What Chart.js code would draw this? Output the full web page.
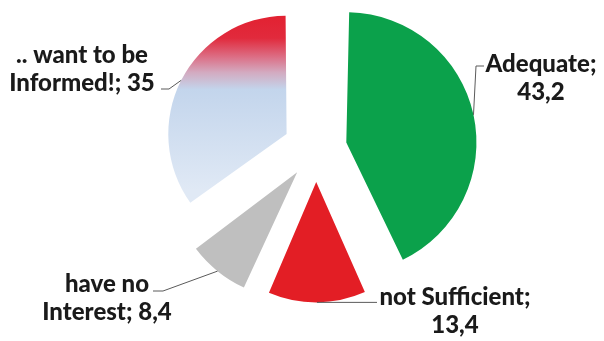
<!DOCTYPE html>
<html>
<head>
<meta charset="utf-8">
<script src="https://cdn.jsdelivr.net/npm/chart.js@4"></script>
<style>
  html, body { margin: 0; padding: 0; background: #fff; }
  canvas { display: block; }
</style>
</head>
<body>
<canvas id="pieChart" width="604" height="341"></canvas>
<script>
const categories = ['Adequate', 'not Sufficient', 'have no Interest', '.. want to be Informed!'];
const values = [43.2, 13.4, 8.4, 35];
// first printed line of each label, and the text before the value on the second line
const labelHeads = ['Adequate;', 'not Sufficient;', 'have no', '.. want to be'];
const labelTails = ['', '', 'Interest; ', 'Informed!; '];

const sliceColors = ['#0ba14b', '#e31e25', '#bfbfbf', null];
// chart.js moves each slice out by offset / 4
const sliceOffsets = [124, 132, 120, 132];

// where each label sits (centre x, first baseline) and the bends of its leader line
const labelPos = [
  { x: 541, y: 72, leader: [[476, 66], [484, 66]] },
  { x: 455, y: 305, leader: [[377, null]] },
  { x: 107, y: 292, leader: [[163, 291], [153, 291]] },
  { x: 82, y: 63, leader: [[169, 89], [161, 89]] }
];

const PIE_RADIUS = 112;

const pieCtx = document.getElementById('pieChart').getContext('2d');

function fmt(v) {
  return String(v).replace('.', ',');
}

// red fading into pale blue, top to bottom of the last slice
function sliceFill(context) {
  const i = context.dataIndex;
  if (sliceColors[i]) return sliceColors[i];
  const chart = context.chart;
  const area = chart.chartArea;
  if (!area) return '#c6d7ec';
  const cy = (area.top + area.bottom) / 2;
  const top = cy - 15 - 119;
  const bottom = cy - 15 + 119 * 0.6;
  const g = chart.ctx.createLinearGradient(0, top, 0, bottom);
  g.addColorStop(0, '#e31b2a');
  g.addColorStop(0.2, '#e12a3c');
  g.addColorStop(0.3, '#dc6f86');
  g.addColorStop(0.38, '#d3aac0');
  g.addColorStop(0.47, '#c3d5ec');
  g.addColorStop(1, '#e0e9f5');
  return g;
}

const sliceLabels = {
  id: 'sliceLabels',
  afterDatasetsDraw(chart) {
    const ctx = chart.ctx;
    const meta = chart.getDatasetMeta(0);
    meta.data.forEach((arc, i) => {
      const p = arc.getProps(['x', 'y', 'startAngle', 'endAngle', 'outerRadius', 'circumference']);
      const mid = (p.startAngle + p.endAngle) / 2;
      const shift = arc.options.offset / 4;
      const fix = 1 - Math.sin(Math.min(Math.PI, p.circumference));
      const r = p.outerRadius + shift * fix;
      const ax = p.x + Math.cos(mid) * (shift + r);
      const ay = p.y + Math.sin(mid) * (shift + r);
      const pos = labelPos[i];

      ctx.save();
      ctx.strokeStyle = '#5a5a5a';
      ctx.lineWidth = 1;
      ctx.beginPath();
      ctx.moveTo(ax, ay);
      pos.leader.forEach(pt => ctx.lineTo(pt[0], pt[1] === null ? ay : pt[1]));
      ctx.stroke();

      ctx.fillStyle = '#1a1a1a';
      ctx.font = '900 24px Lato';
      ctx.textAlign = 'center';
      ctx.textBaseline = 'alphabetic';
      ctx.fillText(labelHeads[i], pos.x, pos.y);
      ctx.fillText(labelTails[i] + fmt(values[i]), pos.x, pos.y + 28);
      ctx.restore();
    });
  }
};

var pieChart = new Chart(pieCtx, {
  type: 'pie',
  data: {
    labels: categories,
    datasets: [{
      data: values,
      backgroundColor: sliceFill,
      borderWidth: 0,
      offset: sliceOffsets,
      radius: PIE_RADIUS
    }]
  },
  options: {
    responsive: false,
    animation: false,
    layout: {
      padding: { left: 28, right: 0, top: 0, bottom: 43 }
    },
    plugins: {
      legend: { display: false },
      tooltip: { enabled: false }
    }
  },
  plugins: [sliceLabels]
});
</script>
</body>
</html>
